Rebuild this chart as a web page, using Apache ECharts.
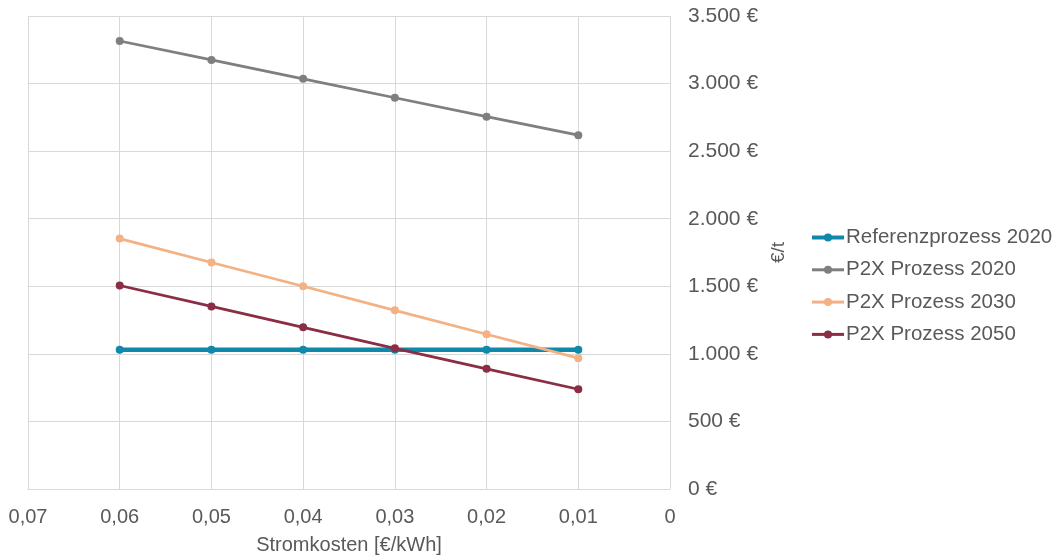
<!DOCTYPE html>
<html>
<head>
<meta charset="utf-8">
<script src="https://cdn.jsdelivr.net/npm/echarts@6/dist/echarts.min.js"></script>
<style>
html,body{margin:0;padding:0;background:#fff;}
#c{width:1057px;height:560px;}
</style>
</head>
<body>
<div id="c"></div>
<script>
const stromkosten = [0.06, 0.05, 0.04, 0.03, 0.02, 0.01];
const seriesNames = ['Referenzprozess 2020', 'P2X Prozess 2020', 'P2X Prozess 2030', 'P2X Prozess 2050'];
const referenz2020 = [1030, 1030, 1030, 1030, 1030, 1030];
const p2x2020 = [3315, 3175, 3035, 2895, 2755, 2618];
const p2x2030 = [1853, 1676, 1500, 1322, 1145, 968];
const p2x2050 = [1506, 1351, 1196, 1041, 889, 738];
const colors = ['#0f88aa', '#7f7f7f', '#f4b183', '#8b2d44'];
const lineWidths = [4.5, 2.75, 2.75, 2.75];

const allValues = [referenz2020, p2x2020, p2x2030, p2x2050];

const fmtX = v => v === 0 ? '0' : v.toFixed(2).replace('.', ',');
const fmtY = v => {
  const s = Math.round(v).toString().replace(/\B(?=(\d{3})+(?!\d))/g, '.');
  return s + ' €';
};

const FONT = 'Liberation Sans, Arial, sans-serif';
const chart = echarts.init(document.getElementById('c'));
chart.setOption({
  animation: false,
  backgroundColor: '#ffffff',
  textStyle: { fontFamily: FONT },
  grid: { left: 28, right: 387, top: 16, bottom: 70, containLabel: false },
  legend: {
    orient: 'vertical',
    left: 805,
    top: 222,
    itemWidth: 32,
    itemHeight: 10,
    itemGap: 11.3,
    data: seriesNames.map((n, i) => ({ name: n, lineStyle: { width: i === 0 ? 4 : 3 } })),
    textStyle: { color: '#595959', fontSize: 20.5, fontFamily: FONT, padding: [0, 0, 0, -3] }
  },
  xAxis: {
    type: 'value',
    inverse: true,
    min: 0,
    max: 0.07,
    interval: 0.01,
    name: 'Stromkosten [€/kWh]',
    nameLocation: 'middle',
    nameGap: 46,
    nameTextStyle: { color: '#595959', fontSize: 20, fontFamily: FONT },
    axisLine: { show: true, lineStyle: { color: '#d9d9d9', width: 1 } },
    axisTick: { show: false },
    axisLabel: { color: '#595959', fontSize: 20, margin: 18, fontFamily: FONT, formatter: fmtX },
    splitLine: { show: true, lineStyle: { color: '#d9d9d9', width: 1 } }
  },
  yAxis: {
    type: 'value',
    position: 'right',
    min: 0,
    max: 3500,
    interval: 500,
    name: '€/t',
    nameLocation: 'middle',
    nameRotate: 90,
    nameGap: 94,
    nameTextStyle: { color: '#595959', fontSize: 19, fontFamily: FONT },
    axisLine: { show: false },
    axisTick: { show: false },
    axisLabel: { color: '#595959', fontSize: 21, margin: 18, padding: [4, 0, 0, 0], fontFamily: FONT, formatter: fmtY },
    splitLine: { show: true, lineStyle: { color: '#d9d9d9', width: 1 } }
  },
  series: seriesNames.map((name, i) => ({
    name: name,
    type: 'line',
    data: stromkosten.map((x, j) => [x, allValues[i][j]]),
    symbol: 'circle',
    symbolSize: 8,
    showSymbol: true,
    color: colors[i],
    lineStyle: { color: colors[i], width: lineWidths[i] },
    itemStyle: { color: colors[i] },
    z: 2 + i
  }))
});
</script>
</body>
</html>
